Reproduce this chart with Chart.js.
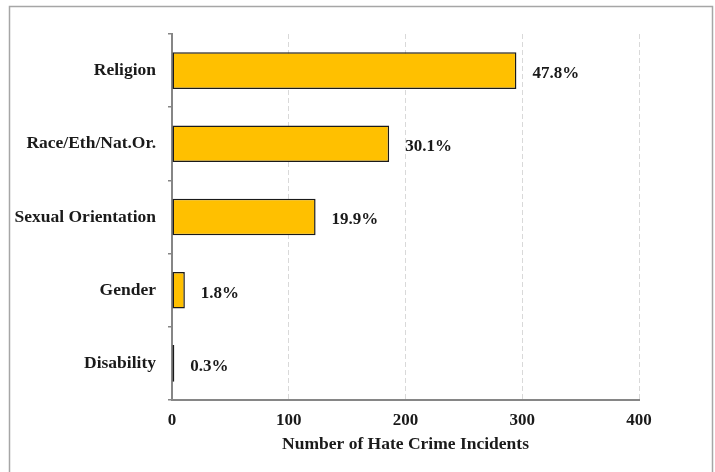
<!DOCTYPE html>
<html>
<head>
<meta charset="utf-8">
<script src="https://cdn.jsdelivr.net/npm/chart.js@4"></script>
<style>
  html, body { margin: 0; padding: 0; background: #fff; }
  #wrap { width: 715px; height: 472px; position: relative; }
</style>
</head>
<body>
<div id="wrap"><canvas id="barChart"></canvas></div>
<script>
// Hate crime incidents by motivation
const categories = ["Religion", "Race/Eth/Nat.Or.", "Sexual Orientation", "Gender", "Disability"];
const incidents = [295, 186, 123, 11, 2];
const shareLabels = ["47.8%", "30.1%", "19.9%", "1.8%", "0.3%"];
const xTicks = [0, 100, 200, 300, 400];

const FONT = "'Liberation Serif', 'DejaVu Serif', serif";

/* ---------------------------
   Outer frame + value labels
---------------------------- */
const framePlugin = {
    id: "frame",
    beforeDraw(chart) {
        const c = chart.ctx;
        c.save();
        c.strokeStyle = "#a6a6a6";
        c.lineWidth = 1.5;
        c.strokeRect(9.5, 6.5, 703, 480);
        c.restore();
    }
};

const valueLabels = {
    id: "valueLabels",
    afterDatasetsDraw(chart) {
        const c = chart.ctx;
        const meta = chart.getDatasetMeta(0);
        c.save();
        c.font = "bold 17px " + FONT;
        c.fillStyle = "#1a1a1a";
        c.textAlign = "left";
        c.textBaseline = "middle";
        meta.data.forEach((bar, i) => {
            c.fillText(shareLabels[i], bar.x + 16, bar.y + 3);
        });
        c.restore();
    }
};

const ctx = document.getElementById("barChart").getContext("2d");

new Chart(ctx, {
    type: "bar",
    data: {
        labels: categories,
        datasets: [{
            data: incidents,
            backgroundColor: "#FFC000",
            borderColor: "#1a1a1a",
            borderWidth: 1.5,
            borderSkipped: false,
            categoryPercentage: 1,
            barPercentage: 0.5
        }]
    },
    options: {
        indexAxis: "y",
        responsive: true,
        maintainAspectRatio: false,
        animation: false,
        layout: {
            padding: { top: 34, right: 76, bottom: 17, left: 0 }
        },
        scales: {
            x: {
                min: 0,
                max: 400,
                afterBuildTicks: axis => {
                    axis.ticks = xTicks.map(v => ({ value: v }));
                },
                afterFit: axis => { axis.height = 55; },
                grid: {
                    color: "#d9d9d9",
                    lineWidth: 1,
                    drawTicks: false
                },
                border: {
                    color: "#868686",
                    width: 2,
                    dash: [5, 3]
                },
                ticks: {
                    padding: 10,
                    color: "#1a1a1a",
                    font: { family: FONT, size: 17, weight: "bold" }
                },
                title: {
                    display: true,
                    text: "Number of Hate Crime Incidents",
                    color: "#1a1a1a",
                    padding: { top: 0, bottom: 0 },
                    font: { family: FONT, size: 17.5, weight: "bold" }
                }
            },
            y: {
                afterFit: axis => { axis.width = 172; },
                grid: {
                    drawOnChartArea: false,
                    drawTicks: true,
                    tickLength: 4,
                    color: "#868686",
                    lineWidth: 1.5
                },
                border: {
                    color: "#868686",
                    width: 2
                },
                ticks: {
                    padding: 12,
                    color: "#1a1a1a",
                    font: { family: FONT, size: 17.5, weight: "bold" }
                }
            }
        },
        plugins: {
            legend: { display: false },
            tooltip: { enabled: false }
        }
    },
    plugins: [framePlugin, valueLabels]
});
</script>
</body>
</html>
